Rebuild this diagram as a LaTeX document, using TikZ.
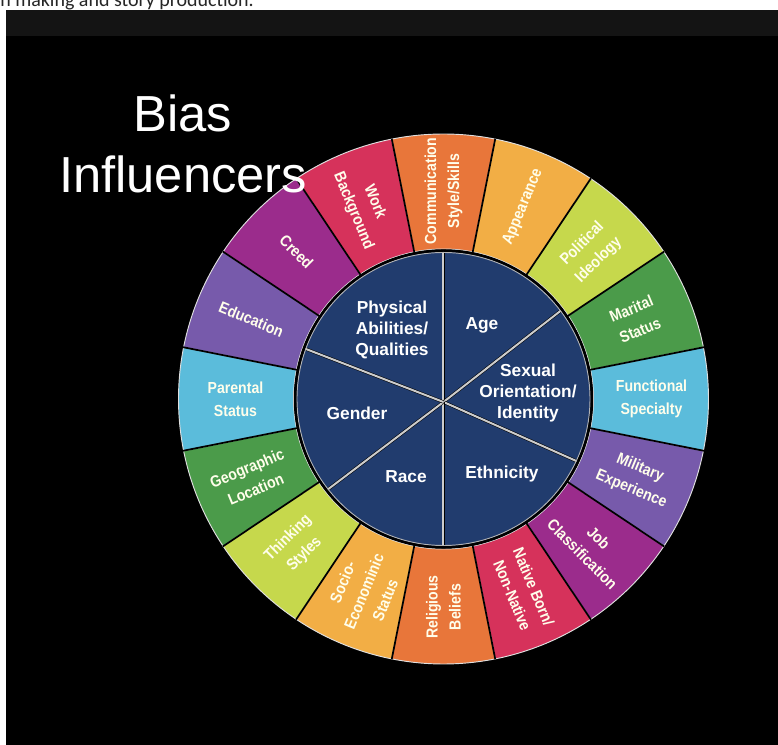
\documentclass[tikz,border=0pt]{standalone}
\usepackage{fontspec}
\setmainfont{Liberation Sans}
\newfontfamily\capfont{Carlito}
\newfontfamily\ringfont[FakeStretch=0.88]{Liberation Sans Bold}
\usepackage{tikz}
\usetikzlibrary{positioning,calc}
\tikzset{>=latex}

\definecolor{navy}{HTML}{213C6E}
\definecolor{crim}{HTML}{D6325B}
\definecolor{orng}{HTML}{E8763A}
\definecolor{ambr}{HTML}{F2AE45}
\definecolor{lime}{HTML}{C6D84C}
\definecolor{grn}{HTML}{4B9B4A}
\definecolor{sky}{HTML}{5BBCDB}
\definecolor{viol}{HTML}{775AAB}
\definecolor{plum}{HTML}{9B2C8C}
\definecolor{bar}{HTML}{141414}

\tikzset{
  ringlabel/.style={align=center, text=white!92!yellow, inner sep=0pt, font=\ringfont\fontsize{12}{17.25}\selectfont},
  pielabel/.style={align=center, text=white, inner sep=0pt, font=\bfseries\fontsize{13}{16}\selectfont},
  titletext/.style={text=white, inner sep=0pt, font=\fontsize{38}{44}\selectfont},
  spoke/.style={draw=black, line width=0.4pt, double=gray!40!white, double distance=1.5pt},
  segsep/.style={draw=black, line width=1.3pt},
  segedge/.style={draw=white!75!gray, line width=0.7pt}
}

\begin{document}
\begin{tikzpicture}[x=0.75pt,y=0.75pt]
\useasboundingbox (-443.5,-346) rectangle (334.5,399);
% background
\fill[white] (-443.5,-346) rectangle (334.5,399);
\fill[bar] (-437.5,363) rectangle (334.5,389);
\fill[black] (-437.5,-346) rectangle (334.5,363);
\node[anchor=base west, inner sep=0pt, text=black!85, font=\capfont\fontsize{15}{18}\selectfont] (cap) at (-443.5,392.5) {n making and story production.};

% outer ring
\foreach \a/\c in {90/orng,67.5/ambr,45/lime,22.5/grn,0/sky,-22.5/viol,-45/plum,-67.5/crim,
                   -90/orng,-112.5/ambr,-135/lime,-157.5/grn,180/sky,157.5/viol,135/plum,112.5/crim}
  \filldraw[fill=\c, segedge] ({\a-11.25}:150) -- ({\a-11.25}:265)
     arc[start angle={\a-11.25}, end angle={\a+11.25}, radius=265]
     -- ({\a+11.25}:150) arc[start angle={\a+11.25}, end angle={\a-11.25}, radius=150] -- cycle;
\foreach \a in {0,22.5,...,337.5}
  \draw[segsep] ({\a+11.25}:149) -- ({\a+11.25}:265.5);

% inner pie
\fill[navy] (0,0) circle[radius=147];
\coordinate (hub) at (0,-3);
\begin{scope}
\clip (0,0) circle[radius=147];
\draw[spoke] (hub) -- (90:150);
\draw[spoke] (hub) -- (37:150);
\draw[spoke] (hub) -- (-25:150);
\draw[spoke] (hub) -- (-90:150);
\draw[spoke] (hub) -- (218:150);
\draw[spoke] (hub) -- (160:150);
\end{scope}
\draw[gray!60, line width=0.7pt] (0,0) circle[radius=146.5];
\draw[black, line width=1.8pt] (0,0) circle[radius=148.5];

\node[pielabel] (phys) at (-51.5,69) {Physical\\Abilities/\\Qualities};
\node[pielabel] (age) at (38.5,74) {Age};
\node[pielabel] (sexo) at (84.5,6) {Sexual\\Orientation/\\Identity};
\node[pielabel] (gend) at (-86.5,-14) {Gender};
\node[pielabel] (race) at (-37.5,-78) {Race};
\node[pielabel] (ethn) at (58.5,-75) {Ethnicity};

% ring labels
\node[ringlabel, rotate=90] (comm) at (90:208) {Communication\\Style/Skills};
\node[ringlabel, rotate=67.5] (appr) at (67.5:208) {Appearance};
\node[ringlabel, rotate=45] (poli) at (45:208) {Political\\Ideology};
\node[ringlabel, rotate=22.5] (mari) at (22.5:208) {Marital\\Status};
\node[ringlabel] (func) at (0:208) {Functional\\Specialty};
\node[ringlabel, rotate=-22.5] (mili) at (-22.5:208) {Military\\Experience};
\node[ringlabel, rotate=-45] (job) at (-45:208) {Job\\Classification};
\node[ringlabel, rotate=-67.5] (nati) at (-67.5:208) {Native Born/\\Non-Native};
\node[ringlabel, rotate=90] (reli) at (-90:208) {Religious\\Beliefs};
\node[ringlabel, rotate=67.5] (soci) at (-112.5:208) {Socio-\\Econominic\\Status};
\node[ringlabel, rotate=45] (thin) at (-135:208) {Thinking\\Styles};
\node[ringlabel, rotate=22.5] (geog) at (-157.5:208) {Geographic\\Location};
\node[ringlabel] (pare) at (180:208) {Parental\\Status};
\node[ringlabel, rotate=-22.5] (educ) at (157.5:208) {Education};
\node[ringlabel, rotate=-45] (cree) at (135:208) {Creed};
\node[ringlabel, rotate=-67.5] (work) at (112.5:208) {Work\\Background};

% title
\node[titletext, anchor=base] (bias) at (-260.5,267) {Bias};
\node[titletext, anchor=base] (infl) at (-260.5,206) {Influencers};
\end{tikzpicture}
\end{document}
